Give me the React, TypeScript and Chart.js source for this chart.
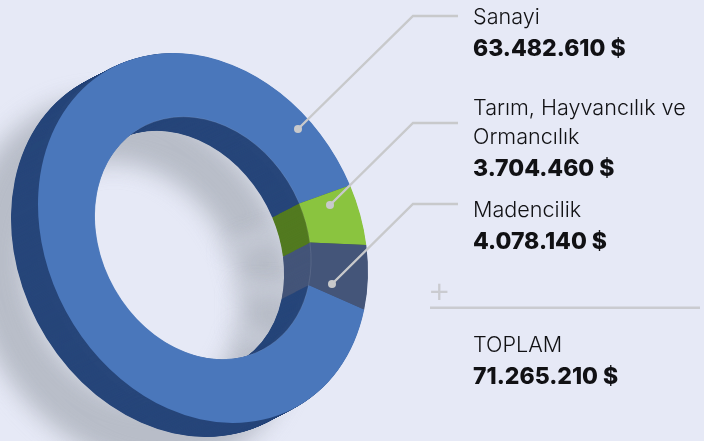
import React, { useEffect, useRef } from "react";
import { Chart, registerables } from "chart.js";

Chart.register(...registerables);

const categories = ["Sanayi", "Tarım, Hayvancılık ve Ormancılık", "Madencilik"];
const values = [63482610, 3704460, 4078140];
const faceColors = ["#4a77bb", "#8ac43f", "#445579"];
const wallColors = ["#27467a", "#527a20", "#445579"];
const labelRows: [string, boolean, number][] = [
  ["Sanayi", false, 24],
  ["63.482.610 $", true, 56],
  ["Tarım, Hayvancılık ve", false, 115],
  ["Ormancılık", false, 144],
  ["3.704.460 $", true, 176],
  ["Madencilik", false, 217],
  ["4.078.140 $", true, 249],
  ["TOPLAM", false, 352],
  ["71.265.210 $", true, 384],
];
const leaders: number[][] = [
  [298, 129, 413, 16, 458, 16],
  [330, 205, 413, 123, 458, 123],
  [332, 284, 413, 204, 458, 204],
];

const BG = "#e6e9f6";
const LINE = "#c8c9cb";

const ringPlugin = {
  id: "ring",
  beforeDraw(chart: any) {
    const ctx = chart.ctx;
    ctx.save();
    ctx.fillStyle = BG;
    ctx.fillRect(0, 0, chart.width, chart.height);
    ctx.restore();
  },
  beforeDatasetsDraw(chart: any) {
    const ctx = chart.ctx;
    const arcs = chart.getDatasetMeta(0).data;
    const place = (dx: number, dy: number) => {
      const a = arcs[0];
      const R = a.outerRadius;
      ctx.setTransform(165 / R, 33.6 / R, 0, 181.9 / R, 203 + dx, 238 + dy);
      ctx.translate(-a.x, -a.y);
    };
    const path = (a: any) => {
      ctx.beginPath();
      ctx.arc(a.x, a.y, a.outerRadius, a.startAngle, a.endAngle);
      ctx.arc(a.x, a.y, a.innerRadius, a.endAngle, a.startAngle, true);
      ctx.closePath();
    };
    // soft cast shadow
    ctx.save();
    ctx.filter = "blur(11px)";
    place(-70, 45);
    ctx.fillStyle = "#b8bdc8";
    arcs.forEach((a: any) => {
      path(a);
      ctx.fill();
      ctx.lineWidth = 2;
      ctx.strokeStyle = "#b8bdc8";
      ctx.stroke();
    });
    ctx.restore();
    // extruded side walls
    ctx.save();
    const depth = 27;
    for (let i = depth; i >= 0.5; i -= 0.5) {
      place(-i, (14 / depth) * i);
      arcs.forEach((a: any, k: number) => {
        ctx.fillStyle = wallColors[k];
        path(a);
        ctx.fill();
      });
    }
    ctx.restore();
    // front face goes through the library's own arc drawing
    ctx.save();
    place(0, 0);
  },
  afterDatasetsDraw(chart: any) {
    const ctx = chart.ctx;
    const arcs = chart.getDatasetMeta(0).data;
    // thin seam on the inner rim
    ctx.strokeStyle = "rgba(255,255,255,0.16)";
    ctx.lineWidth = 0.8;
    arcs.forEach((a: any) => {
      ctx.beginPath();
      ctx.arc(a.x, a.y, a.innerRadius, a.startAngle, a.endAngle);
      ctx.stroke();
    });
    ctx.restore();

    ctx.save();
    // leader lines
    ctx.strokeStyle = LINE;
    ctx.fillStyle = LINE;
    ctx.lineWidth = 2.4;
    leaders.forEach((l) => {
      ctx.beginPath();
      ctx.moveTo(l[0], l[1]);
      ctx.lineTo(l[2], l[3]);
      ctx.lineTo(l[4], l[5]);
      ctx.stroke();
      ctx.beginPath();
      ctx.arc(l[0], l[1], 4, 0, Math.PI * 2);
      ctx.fill();
    });
    // total rule and plus sign
    ctx.strokeStyle = "#cacbd0";
    ctx.lineWidth = 2.6;
    ctx.beginPath();
    ctx.moveTo(430, 307.8);
    ctx.lineTo(700, 307.8);
    ctx.stroke();
    ctx.fillStyle = "#cacbd0";
    ctx.textBaseline = "alphabetic";
    ctx.textAlign = "left";
    ctx.font = "300 36px Inter";
    ctx.fillText("+", 427.5, 302);
    // labels
    ctx.fillStyle = "#111114";
    labelRows.forEach(([text, bold, y]) => {
      ctx.font = bold ? "800 23px Inter" : "300 21.6px Inter";
      ctx.fillText(text, 473, y);
    });
    ctx.restore();
  },
};

export default function App() {
  const ref = useRef<HTMLCanvasElement | null>(null);
  useEffect(() => {
    document.body.style.margin = "0";
    document.body.style.background = BG;
    const chart = new Chart(ref.current as HTMLCanvasElement, {
      type: "doughnut",
      data: {
        labels: categories,
        datasets: [
          {
            data: values,
            backgroundColor: faceColors,
            borderWidth: 0,
            clip: false,
          } as any,
        ],
      },
      options: {
        responsive: false,
        animation: false,
        devicePixelRatio: 1,
        cutout: "65.5%",
        rotation: 102.3,
        layout: { padding: 0 },
        events: [],
        plugins: {
          legend: { display: false },
          title: { display: false },
          tooltip: { enabled: false },
        },
      },
      plugins: [ringPlugin],
    } as any);
    return () => chart.destroy();
  }, []);
  return (
    <canvas
      ref={ref}
      width={704}
      height={441}
      style={{ display: "block", position: "absolute", left: 0, top: 0, width: 704, height: 441 }}
    />
  );
}
